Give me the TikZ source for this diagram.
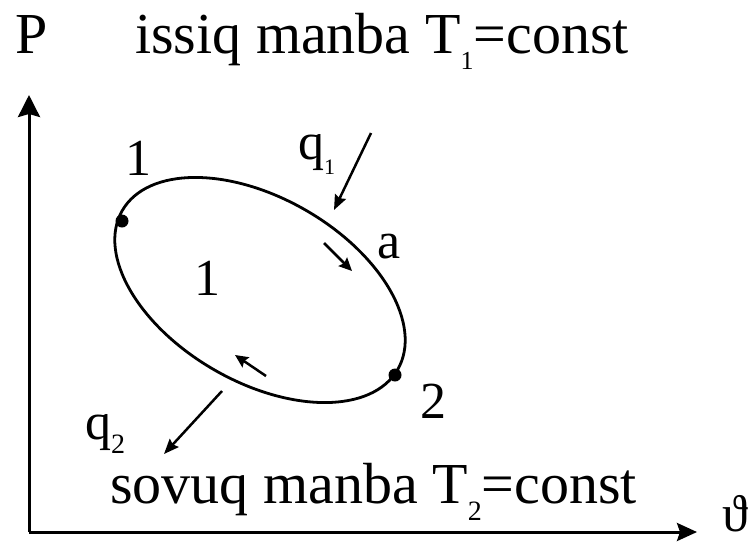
\documentclass[tikz,border=0pt]{standalone}
\usepackage{fontspec}
\setmainfont{Liberation Serif}
\usetikzlibrary{arrows.meta,shapes.geometric}
\newcommand\mysub[3][26]{\raisebox{-#3}{\fontsize{#1}{#1}\selectfont #2}}
\newcommand\mysubflat[3][26]{\raisebox{-#3}[0pt][0pt]{\fontsize{#1}{#1}\selectfont #2}}
\begin{document}
\begin{tikzpicture}[x=1pt,y=-1pt,
  lbl/.style={inner sep=0pt, anchor=base west, font=\fontsize{52}{60}\selectfont},
  big/.style={inner sep=0pt, anchor=base west, font=\fontsize{58}{66}\selectfont},
  axisarr/.style={line width=3pt, -{Stealth[length=22pt,width=22pt,inset=3pt]}},
  flow/.style={line width=2.5pt, -{Stealth[length=15pt,width=12pt,inset=2pt]}},
  dirarr/.style={line width=2.5pt, -{Stealth[length=13pt,width=12pt,inset=2pt]}},
  dot/.style={circle, fill, inner sep=0pt, minimum size=13pt},
  cycle/.style={ellipse, draw, line width=2.8pt, inner sep=0pt}]
\useasboundingbox (0,0) rectangle (752,542);
% axes
\coordinate (O) at (29,532);
\coordinate (ytip) at (29,95);
\coordinate (xtip) at (697,532);
\draw[axisarr] (O) -- (ytip);
\draw[line width=3pt, -{Stealth[length=20pt,width=18pt,inset=3pt]}] (O) -- (xtip);
\node[big] (P) at (15,53) {P};
\node[lbl] (th) at (722,531) {ϑ};
% texts
\node[big] (top) at (135,53) {issiq manba T\mysub{1}{16pt}=const};
\node[big] (bot) at (110,503) {sovuq manba T\mysub[28]{2}{17pt}=const};
% cycle
\node[cycle, minimum width=318pt, minimum height=184pt, rotate=-30] (cyc) at (260,290) {};
\node[dot] (p1) at (122,221) {};
\node[dot] (p2) at (395,375) {};
\node[lbl] (l1) at (125,175) {1};
\node[lbl] (l2) at (420,418) {2};
\node[lbl] (lc) at (194,295) {1};
\node[lbl] (la) at (377,258) {a};
% heat flows
\coordinate (q1s) at (371,133);
\coordinate (q1e) at (334,210);
\draw[flow] (q1s) -- (q1e);
\node[lbl] (q1) at (298,159) {q\mysub[22]{1}{15pt}};
\coordinate (q2s) at (222,391);
\coordinate (q2e) at (164,454);
\draw[flow] (q2s) -- (q2e);
\node[lbl] (q2) at (85,439) {q\mysubflat[28]{2}{14pt}};
% direction arrows
\coordinate (d1s) at (324,243);
\coordinate (d1e) at (352,271);
\draw[dirarr] (d1s) -- (d1e);
\coordinate (d2s) at (266,376);
\coordinate (d2e) at (235,355);
\draw[dirarr] (d2s) -- (d2e);
\end{tikzpicture}
\end{document}
